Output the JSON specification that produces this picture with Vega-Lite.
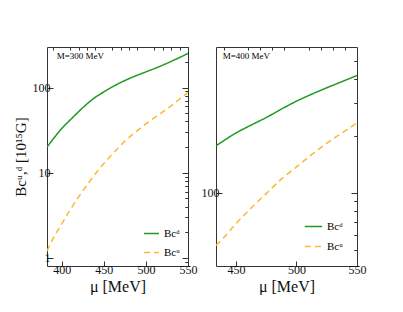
{
  "$schema": "https://vega.github.io/schema/vega-lite/v6.json",
  "padding": {"left": 12, "top": 46, "right": 0, "bottom": 0},
  "background": "white",
  "bounds": "flush",
  "spacing": 28,
  "config": {
    "font": "Liberation Serif",
    "view": {"stroke": "#333", "strokeWidth": 1},
    "axis": {"labelFont": "Liberation Serif", "titleFont": "Liberation Serif", "labelFontSize": 12, "titleFontSize": 16, "titleFontWeight": "normal", "domainColor": "#333", "tickColor": "#333", "labelColor": "#111", "titleColor": "#111", "grid": false, "labelPadding": 3, "labelOverlap": false, "labelFlush": false, "domain": false},
    "legend": {"labelFont": "Liberation Serif", "labelFontSize": 11}
  },
  "datasets": {
    "left": [
      {"mu": 382.5, "B": 20, "type": "d"}, {"mu": 390, "B": 25, "type": "d"}, {"mu": 400, "B": 33, "type": "d"}, {"mu": 412.5, "B": 44, "type": "d"}, {"mu": 425, "B": 58, "type": "d"}, {"mu": 437.5, "B": 74, "type": "d"}, {"mu": 450, "B": 89, "type": "d"}, {"mu": 462.5, "B": 105, "type": "d"}, {"mu": 475, "B": 121, "type": "d"}, {"mu": 487.5, "B": 137, "type": "d"}, {"mu": 500, "B": 153, "type": "d"}, {"mu": 512.5, "B": 171, "type": "d"}, {"mu": 525, "B": 193, "type": "d"}, {"mu": 537.5, "B": 220, "type": "d"}, {"mu": 550, "B": 252, "type": "d"},
      {"mu": 382.5, "B": 1.2, "type": "u"}, {"mu": 390, "B": 1.7, "type": "u"}, {"mu": 400, "B": 2.5, "type": "u"}, {"mu": 412.5, "B": 4, "type": "u"}, {"mu": 425, "B": 6.1, "type": "u"}, {"mu": 437.5, "B": 9, "type": "u"}, {"mu": 450, "B": 12.8, "type": "u"}, {"mu": 462.5, "B": 17.5, "type": "u"}, {"mu": 475, "B": 23.5, "type": "u"}, {"mu": 487.5, "B": 30, "type": "u"}, {"mu": 500, "B": 37.5, "type": "u"}, {"mu": 512.5, "B": 46, "type": "u"}, {"mu": 525, "B": 56, "type": "u"}, {"mu": 537.5, "B": 70, "type": "u"}, {"mu": 550, "B": 88, "type": "u"}
    ],
    "right": [
      {"mu": 433.5, "B": 177, "type": "d"}, {"mu": 450, "B": 207, "type": "d"}, {"mu": 462.5, "B": 228, "type": "d"}, {"mu": 475, "B": 250, "type": "d"}, {"mu": 487.5, "B": 277, "type": "d"}, {"mu": 500, "B": 305, "type": "d"}, {"mu": 512.5, "B": 332, "type": "d"}, {"mu": 525, "B": 359, "type": "d"}, {"mu": 537.5, "B": 387, "type": "d"}, {"mu": 550, "B": 417, "type": "d"},
      {"mu": 433.5, "B": 52.7, "type": "u"}, {"mu": 440, "B": 58, "type": "u"}, {"mu": 450, "B": 68.7, "type": "u"}, {"mu": 462.5, "B": 83, "type": "u"}, {"mu": 475, "B": 99, "type": "u"}, {"mu": 487.5, "B": 118, "type": "u"}, {"mu": 500, "B": 137, "type": "u"}, {"mu": 512.5, "B": 159, "type": "u"}, {"mu": 525, "B": 183, "type": "u"}, {"mu": 537.5, "B": 207, "type": "u"}, {"mu": 550, "B": 234, "type": "u"}
    ],
    "labelLeft": [{"mu": 394, "B": 236, "text": "M=300 MeV"}],
    "labelRight": [{"mu": 439, "B": 528, "text": "M=400 MeV"}]
  },
  "hconcat": [
    {
      "width": 141,
      "height": 219,
      "layer": [
        {
          "data": {"name": "left"},
          "mark": {"type": "line", "strokeWidth": 1.5, "clip": true, "interpolate": "monotone"},
          "encoding": {
            "x": {"field": "mu", "type": "quantitative", "scale": {"domain": [382.5, 550], "nice": false, "zero": false},
              "axis": {"title": "μ [MeV]", "values": [400, 450, 500, 550], "tickSize": -5, "titlePadding": 3, "labelOverlap": false}},
            "y": {"field": "B", "type": "quantitative", "scale": {"type": "log", "domain": [0.8, 300], "nice": false},
              "axis": {"title": "Bcᵘ,ᵈ [10¹⁵G]", "titleFontSize": 15, "values": [1, 10, 100], "tickSize": -6, "titlePadding": 4, "labelOverlap": false}},
            "color": {"field": "type", "type": "nominal", "scale": {"domain": ["d", "u"], "range": ["#1f9a1f", "#ffb733"]},
              "legend": {"title": null, "orient": "bottom-right", "offset": 8, "symbolType": "stroke", "symbolSize": 220, "symbolStrokeWidth": 1.5, "labelExpr": "datum.value === 'd' ? 'Bcᵈ' : 'Bcᵘ'", "rowPadding": 5}},
            "strokeDash": {"field": "type", "type": "nominal", "scale": {"domain": ["d", "u"], "range": [[1, 0], [6, 4]]}, "legend": {"title": null, "orient": "bottom-right", "offset": 8, "symbolType": "stroke", "symbolSize": 220, "symbolStrokeWidth": 1.5, "labelExpr": "datum.value === 'd' ? 'Bcᵈ' : 'Bcᵘ'", "rowPadding": 5}}
          }
        },
        {
          "data": {"name": "labelLeft"},
          "mark": {"type": "text", "align": "left", "baseline": "middle", "fontSize": 9, "font": "Liberation Serif"},
          "encoding": {
            "x": {"field": "mu", "type": "quantitative", "scale": {"domain": [382.5, 550], "nice": false, "zero": false}, "axis": null},
            "y": {"field": "B", "type": "quantitative", "scale": {"type": "log", "domain": [0.8, 300], "nice": false}, "axis": null},
            "text": {"field": "text"}
          }
        },
        {
          "data": {"name": "left"},
          "mark": {"type": "point", "opacity": 0},
          "encoding": {
            "x": {"field": "mu", "type": "quantitative", "scale": {"domain": [382.5, 550], "nice": false, "zero": false},
              "axis": {"title": null, "labels": false, "values": [390, 410, 420, 430, 440, 460, 470, 480, 490, 510, 520, 530, 540], "tickSize": -3}},
            "y": {"field": "B", "type": "quantitative", "scale": {"type": "log", "domain": [0.8, 300], "nice": false},
              "axis": {"title": null, "labels": false, "values": [0.9, 2, 3, 4, 5, 6, 7, 8, 9, 20, 30, 40, 50, 60, 70, 80, 90, 200, 300], "tickSize": -3}}
          }
        },
        {
          "data": {"name": "left"},
          "mark": {"type": "point", "opacity": 0},
          "encoding": {
            "x": {"field": "mu", "type": "quantitative", "scale": {"domain": [382.5, 550], "nice": false, "zero": false}, "axis": null},
            "y": {"field": "B", "type": "quantitative", "scale": {"type": "log", "domain": [0.8, 300], "nice": false},
              "axis": {"orient": "right", "title": null, "labels": false, "values": [1, 10, 100], "tickSize": -6}}
          }
        },
        {
          "data": {"name": "left"},
          "mark": {"type": "point", "opacity": 0},
          "encoding": {
            "x": {"field": "mu", "type": "quantitative", "scale": {"domain": [382.5, 550], "nice": false, "zero": false}, "axis": null},
            "y": {"field": "B", "type": "quantitative", "scale": {"type": "log", "domain": [0.8, 300], "nice": false},
              "axis": {"orient": "right", "title": null, "labels": false, "values": [0.9, 2, 3, 4, 5, 6, 7, 8, 9, 20, 30, 40, 50, 60, 70, 80, 90, 200, 300], "tickSize": -3}}
          }
        }
      ],
      "resolve": {"scale": {"x": "independent", "y": "independent"}, "axis": {"x": "independent", "y": "independent"}}
    },
    {
      "width": 141,
      "height": 219,
      "layer": [
        {
          "data": {"name": "right"},
          "mark": {"type": "line", "strokeWidth": 1.5, "clip": true, "interpolate": "monotone"},
          "encoding": {
            "x": {"field": "mu", "type": "quantitative", "scale": {"domain": [433.5, 550], "nice": false, "zero": false},
              "axis": {"title": "μ [MeV]", "values": [450, 500, 550], "tickSize": -5, "titlePadding": 3, "labelOverlap": false}},
            "y": {"field": "B", "type": "quantitative", "scale": {"type": "log", "domain": [41, 590], "nice": false},
              "axis": {"title": null, "values": [100], "tickSize": -6, "labelOverlap": false}},
            "color": {"field": "type", "type": "nominal", "scale": {"domain": ["d", "u"], "range": ["#1f9a1f", "#ffb733"]},
              "legend": {"title": null, "orient": "bottom-right", "offset": 14, "symbolType": "stroke", "symbolSize": 300, "symbolStrokeWidth": 1.5, "labelExpr": "datum.value === 'd' ? 'Bcᵈ' : 'Bcᵘ'", "rowPadding": 5}},
            "strokeDash": {"field": "type", "type": "nominal", "scale": {"domain": ["d", "u"], "range": [[1, 0], [6, 4]]}, "legend": {"title": null, "orient": "bottom-right", "offset": 14, "symbolType": "stroke", "symbolSize": 300, "symbolStrokeWidth": 1.5, "labelExpr": "datum.value === 'd' ? 'Bcᵈ' : 'Bcᵘ'", "rowPadding": 5}}
          }
        },
        {
          "data": {"name": "labelRight"},
          "mark": {"type": "text", "align": "left", "baseline": "middle", "fontSize": 9, "font": "Liberation Serif"},
          "encoding": {
            "x": {"field": "mu", "type": "quantitative", "scale": {"domain": [433.5, 550], "nice": false, "zero": false}, "axis": null},
            "y": {"field": "B", "type": "quantitative", "scale": {"type": "log", "domain": [41, 590], "nice": false}, "axis": null},
            "text": {"field": "text"}
          }
        },
        {
          "data": {"name": "right"},
          "mark": {"type": "point", "opacity": 0},
          "encoding": {
            "x": {"field": "mu", "type": "quantitative", "scale": {"domain": [433.5, 550], "nice": false, "zero": false},
              "axis": {"title": null, "labels": false, "values": [440, 460, 470, 480, 490, 510, 520, 530, 540], "tickSize": -3}},
            "y": {"field": "B", "type": "quantitative", "scale": {"type": "log", "domain": [41, 590], "nice": false},
              "axis": {"title": null, "labels": false, "values": [50, 60, 70, 80, 90, 200, 300, 400, 500], "tickSize": -3}}
          }
        },
        {
          "data": {"name": "right"},
          "mark": {"type": "point", "opacity": 0},
          "encoding": {
            "x": {"field": "mu", "type": "quantitative", "scale": {"domain": [433.5, 550], "nice": false, "zero": false}, "axis": null},
            "y": {"field": "B", "type": "quantitative", "scale": {"type": "log", "domain": [41, 590], "nice": false},
              "axis": {"orient": "right", "title": null, "labels": false, "values": [100], "tickSize": -6}}
          }
        },
        {
          "data": {"name": "right"},
          "mark": {"type": "point", "opacity": 0},
          "encoding": {
            "x": {"field": "mu", "type": "quantitative", "scale": {"domain": [433.5, 550], "nice": false, "zero": false}, "axis": null},
            "y": {"field": "B", "type": "quantitative", "scale": {"type": "log", "domain": [41, 590], "nice": false},
              "axis": {"orient": "right", "title": null, "labels": false, "values": [50, 60, 70, 80, 90, 200, 300, 400, 500], "tickSize": -3}}
          }
        }
      ],
      "resolve": {"scale": {"x": "independent", "y": "independent"}, "axis": {"x": "independent", "y": "independent"}}
    }
  ],
  "resolve": {"scale": {"color": "independent", "strokeDash": "independent"}, "legend": {"color": "independent", "strokeDash": "independent"}}
}
